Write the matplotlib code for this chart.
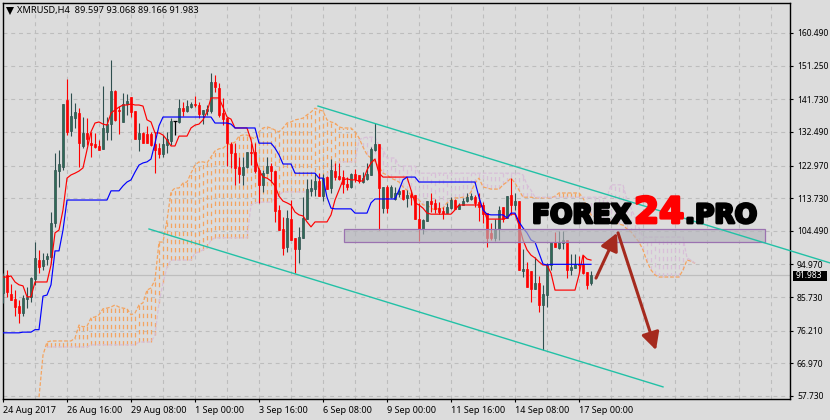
import numpy as np
import matplotlib
matplotlib.use("Agg")
from matplotlib import pyplot as plt
from matplotlib.patches import Rectangle
import matplotlib.patheffects as pe

W, H = 830, 420

title = "XMRUSD,H4  89.597 93.068 89.166 91.983"
last_price = 91.983
price_ticks = [160.49, 151.25, 141.73, 132.49, 122.97, 113.73, 104.49, 94.97, 85.73, 76.21, 66.97, 57.73]
time_ticks = [0, 16, 32, 48, 64, 80, 96, 112, 128, 144]
time_labels = ["24 Aug 2017", "26 Aug 16:00", "29 Aug 08:00", "1 Sep 00:00", "3 Sep 16:00",
               "6 Sep 08:00", "9 Sep 00:00", "11 Sep 16:00", "14 Sep 08:00", "17 Sep 00:00"]

opens = [86.9, 92.0, 86.6, 85.2, 83.2, 81.2, 85.2, 85.8, 90.8, 96.2,
         94.5, 96.5, 97.1, 106.7, 121.4, 122.6, 141.5, 132.7, 136.4, 137.8,
         128.5, 132.2, 129.3, 129.1, 128.5, 127.7, 132.5, 134.7, 144.1, 138.7,
         135.3, 140.4, 142.4, 138.4, 130.5, 132.2, 131.9, 131.9, 129.1, 127.9,
         126.2, 128.8, 129.9, 135.6, 135.3, 139.2, 138.4, 139.5, 140.4, 140.1,
         137.6, 138.4, 138.4, 146.6, 144.9, 137.8, 136.4, 129.1, 126.5, 122.6,
         120.3, 122.6, 126.8, 126.8, 121.7, 117.5, 120.8, 122.8, 121.4, 110.4,
         105.0, 99.9, 107.8, 102.5, 99.3, 102.5, 107.8, 115.8, 116.3, 118.6,
         114.3, 119.7, 116.6, 121.4, 120.0, 119.7, 117.7, 116.9, 120.6, 120.3,
         118.3, 119.2, 120.3, 127.4, 129.1, 110.9, 116.9, 114.0, 113.5, 114.9,
         116.0, 113.8, 114.6, 114.6, 107.8, 105.0, 107.3, 112.9, 112.4, 110.9,
         110.1, 109.5, 110.9, 113.2, 110.7, 111.8, 112.9, 113.5, 114.0, 112.6,
         111.8, 109.5, 103.9, 102.5, 105.0, 111.2, 108.1, 114.6, 111.8, 112.9,
         93.1, 93.7, 93.1, 88.0, 89.7, 83.5, 86.3, 94.8, 101.3, 99.6,
         101.0, 101.9, 93.4, 94.0, 95.1, 95.1, 92.8, 89.6]
highs = [92.5, 93.4, 89.4, 87.7, 84.9, 86.3, 88.6, 91.4, 101.3, 99.1,
         98.2, 98.2, 109.8, 126.5, 127.4, 140.4, 147.5, 143.5, 140.7, 139.2,
         136.7, 136.4, 132.5, 132.2, 130.2, 145.5, 136.7, 152.8, 144.4, 139.8,
         143.5, 143.2, 142.4, 138.4, 135.0, 132.5, 134.2, 132.5, 132.5, 129.3,
         131.6, 132.5, 136.4, 135.6, 141.8, 141.0, 141.5, 141.0, 142.7, 141.0,
         138.7, 140.1, 149.2, 148.6, 146.3, 142.1, 136.7, 129.6, 129.3, 125.4,
         125.4, 126.8, 129.3, 129.3, 122.3, 121.7, 125.4, 123.7, 121.4, 111.8,
         108.4, 110.4, 113.2, 102.5, 105.6, 114.1, 119.2, 119.2, 120.9, 120.9,
         120.6, 120.0, 124.8, 123.7, 123.7, 121.7, 119.7, 120.9, 122.0, 120.3,
         121.1, 123.7, 128.2, 135.0, 129.1, 116.9, 117.5, 117.5, 116.9, 116.6,
         116.0, 116.0, 116.0, 114.6, 112.4, 107.8, 112.9, 115.2, 113.5, 112.6,
         111.2, 112.4, 114.0, 113.5, 112.4, 113.8, 115.2, 115.2, 114.6, 115.2,
         112.6, 109.5, 106.7, 107.8, 111.5, 111.2, 114.3, 119.4, 115.2, 112.9,
         99.3, 95.7, 93.1, 97.1, 91.7, 89.2, 95.4, 101.3, 104.2, 104.4,
         104.4, 101.9, 97.9, 97.9, 97.3, 97.6, 92.8, 93.1]
lows = [84.1, 85.7, 84.9, 80.4, 78.4, 80.4, 82.6, 84.3, 89.2, 92.5,
        93.4, 94.8, 95.4, 105.6, 116.9, 121.7, 131.6, 131.3, 133.6, 122.6,
        127.9, 128.8, 125.4, 127.9, 127.4, 127.7, 130.2, 130.2, 135.6, 131.9,
        135.3, 137.3, 136.7, 130.5, 127.1, 129.3, 129.3, 128.5, 120.8, 125.1,
        125.4, 126.5, 128.8, 131.6, 135.0, 137.0, 138.1, 139.2, 139.5, 136.4,
        134.7, 137.3, 137.8, 143.8, 136.7, 134.4, 122.8, 122.3, 117.5, 118.0,
        117.5, 122.3, 123.1, 120.8, 112.4, 115.5, 120.8, 118.3, 107.0, 104.7,
        97.6, 98.5, 101.9, 92.5, 95.4, 102.5, 107.8, 114.3, 114.3, 114.3,
        112.9, 116.3, 115.2, 118.9, 118.9, 115.2, 116.0, 116.6, 118.3, 118.0,
        118.0, 118.9, 120.3, 127.1, 104.7, 109.5, 109.5, 113.8, 113.2, 114.0,
        113.2, 111.2, 111.8, 107.8, 101.6, 103.6, 107.3, 109.8, 109.5, 109.2,
        107.8, 109.5, 110.7, 110.7, 110.7, 111.8, 112.6, 113.2, 111.2, 107.3,
        106.7, 99.9, 101.9, 101.6, 101.9, 107.0, 108.1, 109.0, 110.4, 93.4,
        91.4, 88.6, 84.3, 88.0, 81.5, 70.8, 82.9, 93.4, 99.9, 99.3,
        99.3, 91.1, 92.0, 94.0, 92.8, 92.3, 88.0, 89.2]
closes = [91.7, 87.2, 84.9, 82.9, 81.2, 85.5, 85.8, 91.1, 96.8, 94.2,
          96.2, 97.3, 106.7, 121.7, 123.4, 140.4, 132.5, 137.0, 138.1, 129.3,
          132.2, 130.5, 128.8, 128.2, 127.4, 133.6, 134.7, 144.1, 135.9, 138.4,
          140.4, 141.2, 138.1, 130.5, 132.2, 129.3, 129.3, 128.8, 127.4, 126.2,
          129.1, 130.5, 135.6, 135.6, 139.2, 138.4, 139.8, 140.4, 140.1, 137.6,
          138.7, 139.0, 146.6, 145.2, 137.3, 136.1, 129.3, 126.5, 122.3, 120.6,
          122.6, 126.8, 126.5, 121.4, 117.5, 120.8, 122.8, 121.4, 110.1, 104.7,
          99.6, 108.1, 101.9, 99.3, 102.7, 108.1, 116.3, 116.6, 118.6, 114.3,
          119.4, 116.3, 121.7, 119.7, 119.2, 117.7, 116.9, 120.6, 119.2, 118.6,
          119.4, 120.6, 127.7, 129.1, 116.6, 116.9, 110.9, 116.9, 115.2, 115.8,
          113.5, 114.6, 114.0, 107.8, 105.0, 107.5, 112.9, 112.1, 110.7, 109.8,
          109.5, 111.2, 113.2, 110.7, 111.8, 112.9, 114.0, 114.3, 112.4, 111.2,
          109.2, 102.5, 102.5, 105.0, 110.4, 107.8, 114.3, 111.8, 112.9, 93.4,
          93.7, 88.6, 88.0, 89.7, 83.5, 86.6, 94.8, 101.3, 99.9, 101.3,
          101.9, 93.4, 94.2, 95.1, 94.8, 92.5, 89.2, 92.0]

tenkan = [91.4, 91.4, 91.7, 90.0, 89.2, 88.9, 85.8, 85.8, 90.0, 90.0,
          90.0, 90.0, 94.8, 103.9, 104.7, 110.4, 119.4, 120.3, 120.8, 121.4,
          122.3, 127.4, 132.5, 135.0, 135.3, 134.7, 134.4, 137.8, 138.7, 139.5,
          140.1, 140.1, 140.4, 140.1, 140.1, 139.8, 135.9, 135.3, 132.2, 132.2,
          131.6, 130.2, 128.5, 128.5, 131.3, 131.3, 131.3, 133.6, 134.4, 134.7,
          135.9, 138.1, 142.1, 142.1, 142.1, 139.5, 136.7, 136.1, 133.6, 133.6,
          133.6, 133.6, 130.2, 125.4, 121.7, 119.7, 119.4, 118.6, 117.2, 114.3,
          112.9, 112.4, 111.8, 109.8, 109.0, 108.7, 107.0, 105.6, 107.0, 107.0,
          107.0, 107.0, 109.0, 113.2, 116.0, 118.9, 119.2, 118.9, 118.9, 118.6,
          118.6, 121.7, 123.7, 124.8, 120.8, 119.7, 119.7, 119.7, 119.7, 119.7,
          119.7, 119.7, 116.0, 112.4, 111.8, 110.9, 109.5, 109.2, 109.2, 109.2,
          109.2, 109.2, 109.2, 110.4, 111.8, 111.8, 111.8, 111.8, 111.8, 111.8,
          111.2, 107.8, 107.8, 107.8, 107.8, 107.8, 108.1, 109.2, 109.2, 106.1,
          101.9, 99.1, 97.6, 96.8, 95.7, 94.8, 94.8, 92.5, 87.7, 87.7,
          87.7, 87.7, 87.7, 87.7, 92.0, 97.6, 96.5, 96.2]
kijun = [75.6, 75.6, 75.6, 75.6, 75.6, 75.8, 75.8, 75.8, 76.5, 76.5,
         86.0, 86.3, 89.2, 98.8, 98.8, 104.7, 113.2, 113.2, 113.2, 113.2,
         113.2, 113.2, 113.2, 113.2, 113.2, 113.2, 113.2, 115.8, 115.8, 115.8,
         117.2, 118.3, 118.9, 121.1, 123.1, 123.7, 124.0, 124.8, 129.3, 134.2,
         136.7, 136.7, 136.7, 136.7, 136.7, 136.7, 136.7, 136.7, 136.7, 136.7,
         136.7, 136.7, 136.7, 135.0, 135.0, 135.0, 135.0, 134.7, 133.6, 133.6,
         133.6, 133.6, 133.6, 133.6, 129.3, 129.3, 129.3, 129.3, 127.9, 126.0,
         123.4, 123.4, 123.4, 120.8, 120.8, 120.8, 120.8, 120.8, 120.8, 119.4,
         119.4, 114.0, 110.9, 110.7, 110.7, 110.7, 110.7, 110.7, 109.5, 109.5,
         109.5, 109.5, 112.4, 113.5, 113.5, 113.5, 113.5, 113.5, 113.5, 116.0,
         118.9, 119.7, 119.7, 119.7, 118.3, 118.3, 118.3, 118.3, 118.3, 118.3,
         118.3, 118.3, 118.3, 118.3, 118.3, 118.3, 118.3, 118.3, 118.3, 114.0,
         110.4, 109.2, 109.0, 109.0, 109.0, 109.0, 108.1, 109.5, 109.5, 107.0,
         105.3, 103.9, 101.9, 101.3, 98.2, 95.1, 94.8, 95.0, 95.0, 95.0,
         95.0, 95.0, 95.0, 95.0, 95.0, 95.0, 95.0, 95.0]

# cloud lines run past the last candle, each has its own first bar
span_a_start = 9
span_a = [57.4, 69.3, 73.0, 73.3, 73.3, 73.3, 73.3, 73.3, 73.3, 74.1,
          77.8, 77.3, 77.5, 79.8, 80.1, 80.7, 82.4, 82.6, 82.9, 83.5,
          82.9, 82.6, 82.4, 80.7, 81.2, 83.5, 84.1, 87.7, 88.3, 90.6,
          101.3, 101.3, 107.5, 115.5, 116.6, 116.6, 118.0, 118.3, 120.8, 123.1,
          124.0, 124.0, 123.7, 125.4, 127.1, 127.7, 127.9, 128.8, 129.1, 129.6,
          131.3, 131.6, 131.6, 131.0, 130.5, 132.5, 133.6, 133.9, 133.6, 133.0,
          132.5, 133.6, 135.0, 135.3, 135.9, 136.1, 136.4, 137.3, 138.1, 139.2,
          138.7, 138.4, 135.9, 135.3, 135.0, 133.9, 133.6, 133.6, 133.6, 132.5,
          130.8, 128.2, 126.0, 125.1, 124.0, 122.6, 120.8, 120.3, 119.4, 118.9,
          118.3, 116.9, 116.0, 114.6, 113.8, 113.2, 111.8, 111.8, 110.9, 110.4,
          110.9, 110.9, 112.4, 113.2, 113.8, 113.8, 114.0, 114.0, 115.5, 118.0,
          119.4, 116.9, 116.6, 116.3, 116.3, 116.3, 117.5, 118.3, 119.4, 118.0,
          116.0, 114.0, 114.0, 114.0, 113.8, 113.8, 113.8, 113.8, 113.8, 114.3,
          115.2, 115.2, 115.2, 115.2, 115.2, 115.2, 113.8, 111.2, 109.0, 108.4,
          107.8, 107.5, 107.3, 107.0, 106.7, 106.4, 106.1, 105.0, 104.2, 102.7,
          101.3, 99.1, 95.7, 93.4, 92.0, 91.4, 91.4, 91.4, 91.4, 91.4,
          91.4, 93.4, 96.2, 95.9, 95.3]
span_b_start = 11
span_b = [71.6, 71.6, 71.6, 71.6, 71.6, 71.6, 71.6, 71.6, 71.6, 71.6,
          71.6, 72.2, 72.2, 72.2, 72.2, 72.2, 72.2, 72.2, 72.2, 72.2,
          72.2, 72.2, 72.2, 73.0, 73.0, 73.0, 73.0, 75.0, 84.1, 89.7,
          94.2, 96.2, 96.2, 96.2, 96.2, 96.2, 96.2, 98.2, 98.5, 99.1,
          99.6, 101.9, 102.5, 102.5, 102.5, 102.5, 102.5, 102.5, 102.5, 102.5,
          102.5, 111.8, 112.4, 112.6, 112.6, 112.6, 112.6, 113.8, 114.6, 115.5,
          115.5, 115.5, 115.5, 115.5, 115.5, 115.5, 115.5, 116.6, 117.2, 117.5,
          120.3, 122.3, 123.1, 124.0, 124.0, 124.0, 124.0, 124.0, 130.2, 130.8,
          131.0, 131.0, 131.0, 128.8, 127.4, 125.1, 125.1, 125.1, 122.8, 122.8,
          122.8, 122.8, 122.8, 120.8, 120.8, 120.8, 120.8, 120.8, 120.8, 120.8,
          120.8, 120.8, 120.8, 120.8, 120.8, 120.8, 120.8, 120.8, 120.8, 120.8,
          120.8, 120.8, 120.8, 120.8, 120.8, 120.8, 120.8, 120.8, 120.8, 120.3,
          117.5, 116.0, 114.0, 114.0, 114.0, 114.0, 114.0, 114.0, 114.0, 114.0,
          114.0, 114.0, 114.0, 114.0, 114.0, 114.0, 114.0, 114.0, 114.0, 114.0,
          114.0, 117.5, 117.5, 117.5, 117.5, 113.2, 110.9, 108.4, 105.3, 102.7,
          102.7, 102.7, 102.7, 102.7, 102.7, 102.7, 102.7, 102.7, 102.7, 102.7,
          96.8, 96.2, 95.3]

# drawn objects, bar number / price
upper_channel_x = [78.75, 206.75]
upper_channel_y = [139.8, 95.4]
lower_channel_x = [36.5, 165.0]
lower_channel_y = [105.0, 60.3]
zone_x = [85.25, 190.5]
zone_y = [101.2, 105.1]
arrow_up_x = [148.25, 153.5]
arrow_up_y = [91.1, 103.9]
arrow_down_x = [153.75, 163.25]
arrow_down_y = [103.9, 70.7]

BG = "#DCDCDC"
DARK = "#2E6B55"
DARK_EDGE = "#2F4F4F"
RED = "#FF0000"
ORANGE = "#F4A460"
THISTLE = "#D8BFD8"
TEAL = "#22C1A6"
BROWN = "#A52A1E"
FONT = "Noto Sans"

fig = plt.figure(figsize=(W / 100, H / 100), dpi=100, facecolor=BG)
ax = fig.add_axes([3 / W, (H - 399) / H, 787 / W, 396 / H], facecolor=BG)
ax.set_xlim(0, 196.75)
ax.set_ylim(56.87, 168.98)

# grid
for x in np.arange(8, 196, 8):
    ax.axvline(x, color="#BDBDBD", lw=0.8, ls=(0, (3.5, 3.5)), zorder=0.5)
for p in price_ticks:
    ax.axhline(p, color="#BDBDBD", lw=0.8, ls=(0, (3.5, 3.5)), zorder=0.5)
ax.axhline(last_price, color="#BEBEBE", lw=0.9, zorder=0.6)

# cloud
a_x = np.arange(span_a_start, span_a_start + len(span_a))
b_x = np.arange(span_b_start, span_b_start + len(span_b))
a = np.array(span_a)
b = np.array(span_b)
for i, x in enumerate(b_x):
    top = a[x - span_a_start]
    col = ORANGE if top >= b[i] else THISTLE
    ax.vlines(x, min(top, b[i]), max(top, b[i]), color=col, lw=0.9, ls=(0, (3.5, 3)), zorder=1)
ax.plot(a_x, a, color=ORANGE, lw=0.9, ls=(0, (3, 1.5)), zorder=1.5)
ax.plot(b_x, b, color=THISTLE, lw=0.9, ls=(0, (3, 1.5)), zorder=1.5)

# candles
o = np.array(opens)
h = np.array(highs)
l = np.array(lows)
c = np.array(closes)
xs = np.arange(len(o))
up = c > o
down = c < o
flat = c == o
ax.vlines(xs[up], l[up], h[up], color=DARK_EDGE, lw=0.8, zorder=3)
ax.vlines(xs[down], l[down], h[down], color=RED, lw=0.8, zorder=3)
ax.vlines(xs[flat], l[flat], h[flat], color="black", lw=0.9, zorder=3)
ax.hlines(c[flat], xs[flat] - 0.4, xs[flat] + 0.4, color="black", lw=0.9, zorder=3)
ax.bar(xs[up], (c - o)[up], bottom=o[up], width=0.72, color=DARK, edgecolor=DARK_EDGE, lw=0.5, zorder=3.1)
ax.bar(xs[down], (o - c)[down], bottom=c[down], width=0.72, color=RED, edgecolor=RED, lw=0.5, zorder=3.1)

ax.plot(xs, tenkan, color=RED, lw=0.85, zorder=4)
ax.plot(xs, kijun, color="#0000FF", lw=0.85, zorder=4)

# zone and channel
ax.add_patch(Rectangle((zone_x[0], zone_y[0]), zone_x[1] - zone_x[0], zone_y[1] - zone_y[0],
                       facecolor="#B4B4BC", edgecolor="none", alpha=0.65, zorder=5))
ax.add_patch(Rectangle((zone_x[0], zone_y[0]), zone_x[1] - zone_x[0], zone_y[1] - zone_y[0],
                       facecolor="none", edgecolor="#9B72B0", lw=0.9, zorder=5.1))
ax.plot(upper_channel_x, upper_channel_y, color=TEAL, lw=1.0, zorder=6, clip_on=False)
ax.plot(lower_channel_x, lower_channel_y, color=TEAL, lw=1.0, zorder=6)

for xx, yy in [(arrow_up_x, arrow_up_y), (arrow_down_x, arrow_down_y)]:
    ax.annotate("", xy=(xx[1], yy[1]), xytext=(xx[0], yy[0]), zorder=7,
                arrowprops=dict(arrowstyle="-|>,head_length=0.7,head_width=0.36", mutation_scale=15,
                                color=BROWN, lw=2.2, shrinkA=0, shrinkB=0))

# axes
for s in ax.spines.values():
    s.set_color("black")
    s.set_linewidth(1.0)
ax.yaxis.tick_right()
ax.set_yticks(price_ticks)
ax.set_yticklabels(["%.3f" % p for p in price_ticks], fontsize=6.1, family=FONT)
ax.set_xticks(time_ticks)
ax.set_xticklabels(time_labels, fontsize=6.5, family=FONT, ha="left")
ax.tick_params(axis="y", length=2.5, width=0.8, pad=2.5, color="black")
ax.tick_params(axis="x", length=2.5, width=0.8, pad=2.5, color="black")

# header
ax.plot([10 / W], [1 - 11 / H], marker="v", ms=6, color="black", mew=0,
        transform=fig.transFigure, clip_on=False, zorder=9)
fig.text(17 / W, 1 - 11 / H, title, fontsize=6.7, family=FONT, va="center", ha="left")

# last price box
fig.add_artist(Rectangle((793 / W, 1 - 281 / H), 34 / W, 10 / H, facecolor="black", edgecolor="none",
                         transform=fig.transFigure))
fig.text(796 / W, 1 - 276 / H, "%.3f" % last_price, fontsize=6.1, family=FONT, color="white", va="center")

# logo
halo = [pe.withStroke(linewidth=2.0, foreground="black")]
halo_red = [pe.withStroke(linewidth=2.0, foreground=RED)]
fig.text(532 / W, 1 - 223 / H, "FOREX", fontsize=19.0, family="DejaVu Sans", weight="bold",
         color="black", va="baseline", path_effects=halo, zorder=10)
fig.text(634 / W, 1 - 223 / H, "24", fontsize=26, family="DejaVu Sans", weight="bold",
         color=RED, va="baseline", path_effects=halo_red, zorder=10)
fig.text(685 / W, 1 - 223 / H, ".PRO", fontsize=19.0, family="DejaVu Sans", weight="bold",
         color="black", va="baseline", path_effects=halo, zorder=10)

fig.savefig("out.png", dpi=100, facecolor=BG)
